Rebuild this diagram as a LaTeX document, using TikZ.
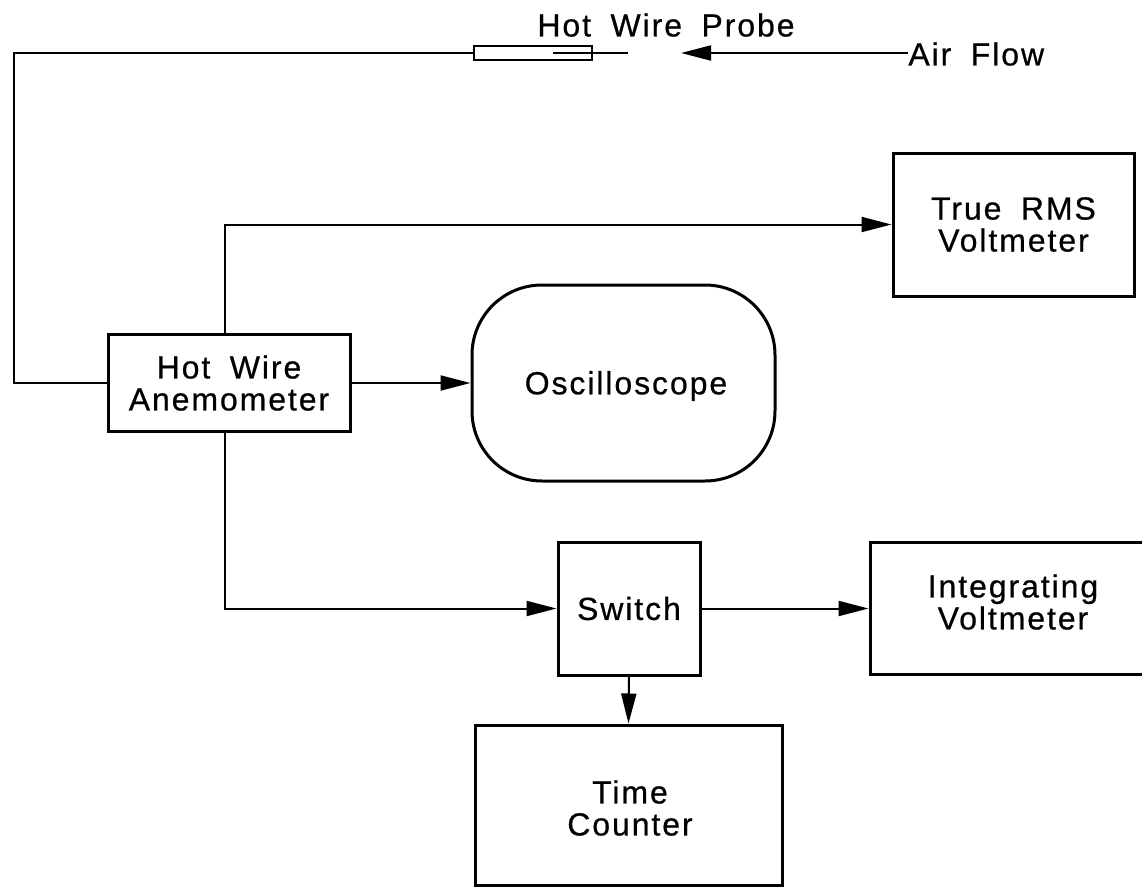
\documentclass[tikz,border=0pt]{standalone}
\usepackage{fontspec}
\setmainfont{Liberation Sans}[LetterSpace=6,WordSpace=1.8,FakeBold=0.6]
\usetikzlibrary{arrows.meta}
\begin{document}
\begin{tikzpicture}[x=0.5pt,y=-0.5pt,
  box/.style={draw,line width=1.5pt,inner sep=0pt,align=center,font=\fontsize{16pt}{16pt}\selectfont},
  wire/.style={line width=1pt},
  arr/.style={wire,-{Triangle[length=15pt,width=7.5pt]}},
  lbl/.style={inner sep=0pt,font=\fontsize{16pt}{16pt}\selectfont}]
\useasboundingbox (0,0) rectangle (1142,889);
% boxes
\node[box,minimum width=121pt,minimum height=48.5pt] (anem) at (229,383) {Hot Wire\\Anemometer};
\node[box,minimum width=120.5pt,minimum height=71.5pt] (rms) at (1013.5,224.5) {True RMS\\Voltmeter};
\node[box,rounded corners=35pt,minimum width=151.5pt,minimum height=98pt] (osc) at (623.5,383) {};
\node[lbl] (osct) at (626,386) {Oscilloscope};
\node[box,minimum width=71pt,minimum height=66.5pt] (sw) at (629,608.5) {Switch};
\node[box,minimum width=145pt,minimum height=66pt] (integ) at (1015,608.5) {};
\node[lbl,align=center] (integt) at (1013,602) {Integrating\\Voltmeter};
\node[box,minimum width=153.5pt,minimum height=80pt] (time) at (628.5,805) {};
\node[lbl,align=center] (timet) at (630,808) {Time\\Counter};
% probe
\node[draw,line width=1pt,inner sep=0pt,minimum width=59pt,minimum height=7pt] (probe) at (533,53) {};
\coordinate (pin) at (553,53);
\coordinate (tail) at (628,53);
\draw[wire] (pin) -- (probe.east) -- (tail);
\node[lbl] (probet) at (666,25) {Hot Wire Probe};
\node[lbl,anchor=west] (air) at (908,54) {Air Flow};
\coordinate (airtip) at (681,53);
\draw[arr] (air.west |- airtip) -- (airtip);
% wiring
\coordinate (c1) at (14,53);
\draw[wire] (probe.west) -- (c1) |- (anem.west);
\coordinate (b1) at (225,223);
\draw[arr] (anem.north -| b1) |- (rms.west);
\draw[arr] (anem.east) -- (osc.west);
\draw[arr] (anem.south -| b1) |- (sw.west);
\draw[arr] (sw.east) -- (integ.west);
\draw[arr] (sw.south) -- (time.north);
\end{tikzpicture}
\end{document}
